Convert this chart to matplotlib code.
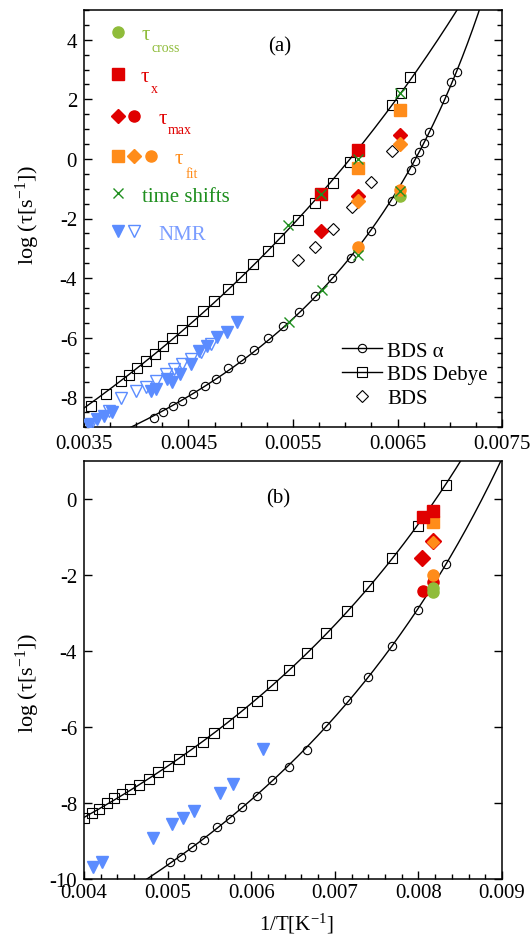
import numpy as np
import matplotlib
matplotlib.use('Agg')
import matplotlib.pyplot as plt
from matplotlib.lines import Line2D

plt.rcParams['font.family'] = ['Liberation Serif', 'DejaVu Serif']
plt.rcParams['mathtext.fontset'] = 'custom'
plt.rcParams['mathtext.rm'] = 'Liberation Serif'
plt.rcParams['mathtext.it'] = 'Liberation Serif:italic'
plt.rcParams['axes.unicode_minus'] = False

# ---------------- data: panel (a) ----------------
a_alpha_x = [0.004170, 0.004259, 0.004349, 0.004441, 0.004546, 0.004655, 0.004763, 0.004881,
             0.005002, 0.005127, 0.005264, 0.005401, 0.005555, 0.005711, 0.005876, 0.006055,
             0.006246, 0.006450, 0.006626, 0.006667, 0.006709, 0.006756, 0.006804, 0.006945,
             0.007012, 0.007066]
a_alpha_y = [-8.70, -8.51, -8.31, -8.13, -7.90, -7.61, -7.39, -7.03, -6.72, -6.41, -6.02, -5.62,
             -5.15, -4.61, -4.01, -3.31, -2.43, -1.41, -0.37, -0.08, 0.24, 0.53, 0.91, 2.01,
             2.57, 2.92]
a_debye_x = [0.003564, 0.003708, 0.003851, 0.003931, 0.004010, 0.004090, 0.004177, 0.004259,
             0.004345, 0.004435, 0.004536, 0.004639, 0.004744, 0.004881, 0.004999, 0.005120,
             0.005258, 0.005369, 0.005551, 0.005711, 0.005880, 0.006045, 0.006445, 0.006533,
             0.006620]
a_debye_y = [-8.29, -7.89, -7.45, -7.26, -7.03, -6.78, -6.55, -6.27, -6.02, -5.74, -5.43, -5.12,
             -4.76, -4.37, -3.98, -3.53, -3.08, -2.67, -2.05, -1.47, -0.81, -0.10, 1.81, 2.20,
             2.76]
a_bds_x = [0.005551, 0.005715, 0.005880, 0.006060, 0.006246, 0.006447]
a_bds_y = [-3.40, -2.96, -2.36, -1.63, -0.79, 0.26]

a_nmr_fill_x = [0.003548, 0.003627, 0.003691, 0.003771, 0.004138, 0.004186, 0.004297, 0.004345,
                0.004419, 0.004521, 0.004600, 0.004680, 0.004776, 0.004871, 0.004967]
a_nmr_fill_y = [-8.93, -8.73, -8.62, -8.51, -7.78, -7.72, -7.39, -7.50, -7.22, -6.89, -6.44,
                -6.27, -5.99, -5.82, -5.49]
a_nmr_open_x = [0.003564, 0.003739, 0.003851, 0.003995, 0.004090, 0.004186, 0.004282, 0.004361,
                0.004441, 0.004521, 0.004617, 0.004712]
a_nmr_open_y = [-8.90, -8.45, -8.04, -7.78, -7.67, -7.45, -7.22, -7.05, -6.89, -6.72, -6.49,
                -6.21]

a_shift_x = [0.006524, 0.006125, 0.005768, 0.005455, 0.006524, 0.006122, 0.005778, 0.005462]
a_shift_y = [2.21, -0.01, -1.18, -2.22, -1.07, -3.22, -4.40, -5.47]

a_taux_x = [0.005768, 0.006125]
a_taux_y = [-1.18, 0.30]
a_fitsq_x = [0.006125, 0.006524]
a_fitsq_y = [-0.29, 1.65]
a_maxdia_x = [0.005768, 0.006125, 0.006524]
a_maxdia_y = [-2.41, -1.26, 0.81]
a_fitdia_x = [0.006125, 0.006524]
a_fitdia_y = [-1.41, 0.50]
a_fitcirc_x = [0.006125, 0.006524]
a_fitcirc_y = [-2.97, -1.05]
a_cross_x = [0.006524]
a_cross_y = [-1.26]

# ---------------- data: panel (b) ----------------
b_alpha_x = [0.005029, 0.005157, 0.005295, 0.005435, 0.005587, 0.005746, 0.005886, 0.006066,
             0.006245, 0.006452, 0.006664, 0.006895, 0.007142, 0.007401, 0.007688, 0.007992,
             0.008327]
b_alpha_y = [-9.54, -9.41, -9.17, -8.97, -8.64, -8.42, -8.10, -7.81, -7.39, -7.04, -6.60, -5.98,
             -5.29, -4.68, -3.88, -2.91, -1.72]
b_debye_x = [0.004000, 0.004099, 0.004183, 0.004272, 0.004362, 0.004451, 0.004550, 0.004661,
             0.004781, 0.004889, 0.005008, 0.005140, 0.005280, 0.005427, 0.005559, 0.005726,
             0.005886, 0.006066, 0.006245, 0.006449, 0.006664, 0.006895, 0.007142, 0.007401,
             0.007688, 0.007992, 0.008327]
b_debye_y = [-8.40, -8.27, -8.16, -8.00, -7.88, -7.76, -7.63, -7.52, -7.37, -7.19, -7.02, -6.84,
             -6.64, -6.40, -6.17, -5.90, -5.61, -5.31, -4.89, -4.50, -4.04, -3.53, -2.96, -2.30,
             -1.56, -0.70, 0.37]
b_nmr_x = [0.004111, 0.004212, 0.004822, 0.005056, 0.005188, 0.005319, 0.005627, 0.005786,
           0.006145]
b_nmr_y = [-9.69, -9.56, -8.91, -8.56, -8.39, -8.20, -7.74, -7.50, -6.58]

b_taux_x = [0.008051, 0.008178]
b_taux_y = [-0.47, -0.31]
b_fitsq_x = [0.008178]
b_fitsq_y = [-0.60]
b_maxdia_x = [0.008046, 0.008178]
b_maxdia_y = [-1.54, -1.10]
b_fitdia_x = [0.008178]
b_fitdia_y = [-1.13]
b_maxcirc_x = [0.008051, 0.008178]
b_maxcirc_y = [-2.43, -2.19]
b_fitcirc_x = [0.008178]
b_fitcirc_y = [-2.0]
b_cross_x = [0.008178, 0.008178]
b_cross_y = [-2.35, -2.45]

# ---------------- colours ----------------
C_CROSS = '#8fbc3a'
C_RED = '#e00000'
C_ORANGE = '#ff8c1a'
C_GREEN = '#1f8f1f'
C_BLUE = '#5b8cff'
C_BLUE_TXT = '#7b9dff'

FS = 15


def vft_fit(x, y):
    x = np.asarray(x); y = np.asarray(y)
    best = None
    for T0 in np.linspace(0.0, 0.97 / x.max(), 600):
        z = x / (1 - T0 * x)
        A = np.vstack([np.ones_like(z), z]).T
        coef = np.linalg.lstsq(A, y, rcond=None)[0]
        r = np.sum((A @ coef - y) ** 2)
        if best is None or r < best[0]:
            best = (r, T0, coef)
    return best[1], best[2]


def vft_line(ax, x, y, xlo, xhi):
    T0, coef = vft_fit(x, y)
    xmax = xhi if T0 == 0 else min(xhi, 0.999 / T0)
    xs = np.linspace(xlo, xmax, 800)
    ys = coef[0] + coef[1] * xs / (1 - T0 * xs)
    ax.plot(xs, ys, color='k', lw=1.0, zorder=2)


fig = plt.figure(figsize=(5.30, 9.37), dpi=100)
W, H = 530.0, 937.0
ax1 = fig.add_axes([84 / W, 1 - 428 / H, 418 / W, 417 / H])
ax2 = fig.add_axes([84 / W, 1 - 880 / H, 418 / W, 418 / H])

open_kw = dict(ls='none', mfc='none', mec='k', mew=0.8, zorder=3)

# ---- panel (a)
vft_line(ax1, a_alpha_x, a_alpha_y, 0.0035, 0.0075)
vft_line(ax1, a_debye_x, a_debye_y, 0.0035, 0.0075)
ax1.plot(a_alpha_x, a_alpha_y, marker='o', ms=6, **open_kw)
ax1.plot(a_debye_x, a_debye_y, marker='s', ms=6.5, **open_kw)
ax1.plot(a_bds_x, a_bds_y, marker='D', ms=6.5, **open_kw)
ax1.plot(a_nmr_open_x, a_nmr_open_y, marker='v', ms=8.5, ls='none', mfc='none', mec=C_BLUE, mew=1.0, zorder=3)
ax1.plot(a_nmr_fill_x, a_nmr_fill_y, marker='v', ms=8.5, ls='none', color=C_BLUE, zorder=3)
ax1.plot(a_taux_x, a_taux_y, marker='s', ms=8, ls='none', color=C_RED, zorder=4)
ax1.plot(a_fitsq_x, a_fitsq_y, marker='s', ms=8, ls='none', color=C_ORANGE, zorder=4)
ax1.plot(a_maxdia_x, a_maxdia_y, marker='D', ms=7.5, ls='none', color=C_RED, zorder=4)
ax1.plot(a_fitdia_x, a_fitdia_y, marker='D', ms=7.5, ls='none', color=C_ORANGE, zorder=5)
ax1.plot(a_cross_x, a_cross_y, marker='o', ms=8, ls='none', color=C_CROSS, zorder=4)
ax1.plot(a_fitcirc_x, a_fitcirc_y, marker='o', ms=8, ls='none', color=C_ORANGE, zorder=5)
ax1.plot(a_shift_x, a_shift_y, marker='x', ms=7.5, mew=1.0, ls='none', color=C_GREEN, zorder=6)

ax1.set_xlim(0.0035, 0.0075)
ax1.set_ylim(-9, 5)
ax1.set_xticks([0.0035, 0.0045, 0.0055, 0.0065, 0.0075])
ax1.set_xticklabels(['0.0035', '0.0045', '0.0055', '0.0065', '0.0075'])
ax1.set_xticks(np.arange(0.0035, 0.00751, 0.00025), minor=True)
ax1.set_yticks([-8, -6, -4, -2, 0, 2, 4])
ax1.set_yticks(np.arange(-9, 5.01, 0.5), minor=True)

# ---- panel (b)
vft_line(ax2, b_alpha_x, b_alpha_y, 0.004, 0.009)
vft_line(ax2, b_debye_x, b_debye_y, 0.004, 0.009)
ax2.plot(b_alpha_x, b_alpha_y, marker='o', ms=6, **open_kw)
ax2.plot(b_debye_x, b_debye_y, marker='s', ms=6.5, **open_kw)
ax2.plot(b_nmr_x, b_nmr_y, marker='v', ms=9, ls='none', color=C_BLUE, zorder=3)
ax2.plot(b_taux_x, b_taux_y, marker='s', ms=8, ls='none', color=C_RED, zorder=4)
ax2.plot(b_fitsq_x, b_fitsq_y, marker='s', ms=8, ls='none', color=C_ORANGE, zorder=3.9)
ax2.plot(b_maxdia_x, b_maxdia_y, marker='D', ms=8, ls='none', color=C_RED, zorder=4)
ax2.plot(b_fitdia_x, b_fitdia_y, marker='D', ms=6.5, ls='none', color=C_ORANGE, zorder=5)
ax2.plot(b_maxcirc_x, b_maxcirc_y, marker='o', ms=8, ls='none', color=C_RED, zorder=4)
ax2.plot(b_fitcirc_x, b_fitcirc_y, marker='o', ms=8, ls='none', color=C_ORANGE, zorder=5)
ax2.plot(b_cross_x, b_cross_y, marker='o', ms=8, ls='none', color=C_CROSS, zorder=6)

ax2.set_xlim(0.004, 0.009)
ax2.set_ylim(-10, 1)
ax2.set_xticks([0.004, 0.005, 0.006, 0.007, 0.008, 0.009])
ax2.set_xticklabels(['0.004', '0.005', '0.006', '0.007', '0.008', '0.009'])
ax2.set_xticks(np.arange(0.004, 0.00901, 0.0002), minor=True)
ax2.set_yticks([-10, -8, -6, -4, -2, 0])

for ax in (ax1, ax2):
    for s in ax.spines.values():
        s.set_linewidth(1.1)
    ax.tick_params(which='both', direction='in', left=True, right=True, top=False, bottom=True,
                   labelsize=FS, width=1.0)
    ax.tick_params(which='major', length=6, pad=5)
    ax.tick_params(which='minor', length=3.5)

ax2.tick_params(axis='y', which='minor', left=False, right=False)
ax2.tick_params(axis='x', which='major', pad=3)

# ---- BDS legend in panel (a)
handles = [Line2D([], [], color='k', lw=1.0, marker='o', ms=6, mfc='none', mec='k', mew=0.8),
           Line2D([], [], color='k', lw=1.0, marker='s', ms=6.5, mfc='none', mec='k', mew=0.8),
           Line2D([], [], ls='none', marker='D', ms=6.5, mfc='none', mec='k', mew=0.8)]
ax1.legend(handles, ['BDS α', 'BDS Debye', 'BDS'], loc='lower right', bbox_to_anchor=(1.0, 0.01),
           frameon=False, fontsize=FS, handlelength=1.9, handletextpad=0.25, labelspacing=0.2,
           borderaxespad=0.3)


# ---- custom legend (pixel positions from top-left)
def px(x, y):
    return x / W, 1 - y / H


def mark(x, y, **kw):
    fx, fy = px(x, y)
    ax1.plot([fx], [fy], transform=fig.transFigure, clip_on=False, ls='none', **kw)


def txt(x, y, s, size, color):
    fx, fy = px(x, y)
    fig.text(fx, fy, s, fontsize=size, color=color, ha='left', va='baseline')


mark(117.7, 33.3, marker='o', ms=8, color=C_CROSS)
txt(141.7, 40, 'τ', FS, C_CROSS)
txt(151, 51.7, 'cross', 10, C_CROSS)

mark(117.7, 75, marker='s', ms=8, color=C_RED)
txt(140.7, 81.7, 'τ', FS, C_RED)
txt(151, 92.7, 'x', 10, C_RED)

mark(117.7, 117.3, marker='D', ms=7.5, color=C_RED)
mark(134.3, 116.7, marker='o', ms=8, color=C_RED)
txt(158.3, 124, 'τ', FS, C_RED)
txt(167.3, 134, 'max', 10, C_RED)

mark(117.7, 156.7, marker='s', ms=8, color=C_ORANGE)
mark(134.3, 156.7, marker='D', ms=7.5, color=C_ORANGE)
mark(151, 157.3, marker='o', ms=8, color=C_ORANGE)
txt(175, 164, 'τ', FS, C_ORANGE)
txt(185.7, 178.3, 'fit', 10, C_ORANGE)

mark(118.3, 194.3, marker='x', ms=7.5, mew=1.0, color=C_GREEN)
txt(142.3, 201.7, 'time shifts', FS, C_GREEN)

mark(117.7, 231.7, marker='v', ms=8.5, color=C_BLUE)
mark(134.3, 231.7, marker='v', ms=8.5, mfc='none', mec=C_BLUE, mew=1.0)
txt(158.3, 240, 'NMR', FS, C_BLUE_TXT)

# panel tags
fig.text(*px(280, 46.7), '(a)', fontsize=FS, ha='center', va='center')
fig.text(*px(278.3, 499.3), '(b)', fontsize=FS, ha='center', va='center')

# axis labels
YL = 16
fig.text(*px(28, 215), 'log (τ[s$^{-1}$])', fontsize=YL, rotation=90, ha='center', va='center')
fig.text(*px(28, 683), 'log (τ[s$^{-1}$])', fontsize=YL, rotation=90, ha='center', va='center')
fig.text(*px(296, 924), '1/T[K$^{-1}$]', fontsize=FS, ha='center', va='center')

fig.savefig('out.png', dpi=100)
